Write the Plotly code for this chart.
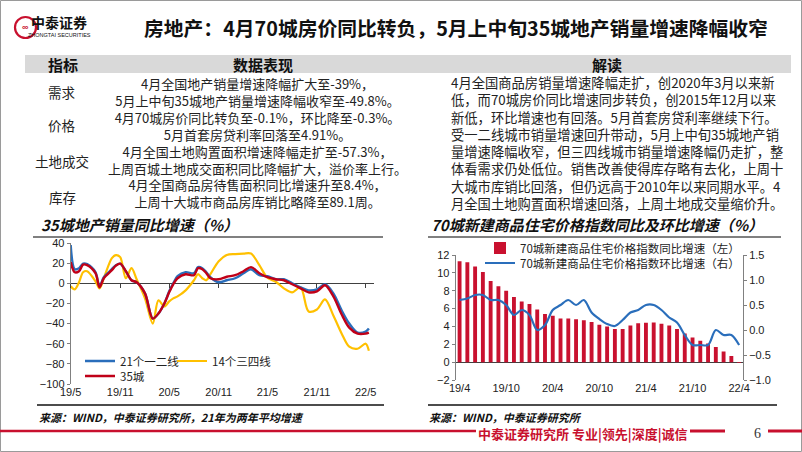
import plotly.graph_objects as go

W, H = 802, 452

# ---------------- data: 35-city sales YoY (left chart) ----------------
dates35 = ["2019-05-01", "2019-05-16", "2019-06-01", "2019-06-16", "2019-07-01", "2019-08-01",
           "2019-08-16", "2019-09-01", "2019-10-01", "2019-10-16", "2019-11-01", "2019-11-22",
           "2019-12-13", "2020-01-01", "2020-02-01", "2020-03-01", "2020-03-22", "2020-04-13",
           "2020-05-01", "2020-05-16", "2020-06-01", "2020-07-01", "2020-08-01", "2020-08-16",
           "2020-09-01", "2020-09-16", "2020-10-01", "2020-11-01", "2020-12-01", "2021-01-01",
           "2021-02-01", "2021-03-01", "2021-04-01", "2021-05-01", "2021-06-01", "2021-07-01",
           "2021-08-01", "2021-09-01", "2021-10-01", "2021-11-01", "2021-12-01", "2022-01-01",
           "2022-02-01", "2022-03-01", "2022-04-01", "2022-05-01", "2022-05-13"]
tier12 = [38, 14, 15, 19.5, 19, 11, -3, 6, 14, 18, 19.5, 12, 3, 1, -10, -35, -30, -20,
          -8, 0, 7, 11, 10, 16, 15, 11, 6, 1, 3, 5, 10, 14, 8, 7, 4, 4, 0, -4, -7, -6, -1,
          -10, -27, -40, -49, -48, -45]
tier34 = [-3, -6, 1, 11, 12, 2, -5, 5, 25, 28, 26, 5, 15, 4, -15, -40, -17, -23,
          -18, -15, -13, -7, 3, 9, 5, 3, 9, 22, 28, 29, 29.5, 29.5, 18, 5.5, 1.5, -5, -9, -4,
          -28, -26, -16, -32, -50, -63, -65, -60, -67]
city35 = [21, 11, 12, 18.5, 18, 10, -4, 5, 13, 17.5, 19.5, 12, 3, 1, -10, -35, -30, -20,
          -9, -1, 5, 9, 8, 15, 14, 10, 5, 4, 6.5, 8, 12, 16, 10, 6, 4, 3, -1, -5, -9, -8, -2,
          -13, -31, -44, -50, -50, -49]
tick_dates35 = ["2019-05-01", "2019-11-01", "2020-05-01", "2020-11-01", "2021-05-01",
                "2021-11-01", "2022-05-01"]
tick_text35 = ["19/5", "19/11", "20/5", "20/11", "21/5", "21/11", "22/5"]

# ---------------- data: 70-city new home prices (right chart) ----------------
months70 = ["19/4", "19/5", "19/6", "19/7", "19/8", "19/9", "19/10", "19/11", "19/12",
            "20/1", "20/2", "20/3", "20/4", "20/5", "20/6", "20/7", "20/8", "20/9", "20/10",
            "20/11", "20/12", "21/1", "21/2", "21/3", "21/4", "21/5", "21/6", "21/7", "21/8",
            "21/9", "21/10", "21/11", "21/12", "22/1", "22/2", "22/3", "22/4"]
yoy70 = [11.3, 11.2, 10.7, 10.1, 9.1, 8.5, 8.0, 7.3, 6.8, 6.5, 5.9, 5.4, 5.2, 4.9, 4.9,
         4.8, 4.7, 4.5, 4.2, 4.0, 3.7, 3.7, 4.1, 4.35, 4.4, 4.45, 4.3, 4.1, 3.7, 3.2, 2.75,
         2.4, 2.1, 1.7, 1.2, 0.7, -0.1]
mom70 = [0.6, 0.63, 0.7, 0.7, 0.6, 0.6, 0.5, 0.3, 0.4, 0.3, 0.0, 0.1, 0.4, 0.5, 0.6, 0.5,
         0.6, 0.35, 0.22, 0.12, 0.08, 0.2, 0.35, 0.4, 0.5, 0.5, 0.4, 0.25, 0.15, -0.1, -0.3,
         -0.3, -0.3, 0.0, -0.1, -0.1, -0.3]
tick_text70 = ["19/4", "19/10", "20/4", "20/10", "21/4", "21/10", "22/4"]

# ---------------- text ----------------
title_text = "房地产：4月70城房价同比转负，5月上中旬35城地产销量增速降幅收窄"
row_labels = ["需求", "价格", "土地成交", "库存"]
data_lines = ["4月全国地产销量增速降幅扩大至-39%，",
              "5月上中旬35城地产销量增速降幅收窄至-49.8%。",
              "4月70城房价同比转负至-0.1%，环比降至-0.3%。",
              "5月首套房贷利率回落至4.91%。",
              "4月全国土地购置面积增速降幅走扩至-57.3%，",
              "上周百城土地成交面积同比降幅扩大，溢价率上行。",
              "4月全国商品房待售面积同比增速升至8.4%，",
              "上周十大城市商品房库销比略降至89.1周。"]
read_lines = ["4月全国商品房销量增速降幅走扩，创2020年3月以来新",
              "低，而70城房价同比增速同步转负，创2015年12月以来",
              "新低，环比增速也有回落。5月首套房贷利率继续下行。",
              "受一二线城市销量增速回升带动，5月上中旬35城地产销",
              "量增速降幅收窄，但三四线城市销量增速降幅仍走扩，整",
              "体看需求仍处低位。销售改善使得库存略有去化，上周十",
              "大城市库销比回落，但仍远高于2010年以来同期水平。4",
              "月全国土地购置面积增速回落，上周土地成交量缩价升。"]

CJK = "Noto Sans CJK SC"
ARIAL = "Liberation Sans, Arial, sans-serif"
BLUE = "#2A6EBB"
RED35 = "#C00018"
YELLOW = "#FFC000"
BARRED = "#C9112F"
AXIS = "#808080"


def fx(x):
    return x / W


def fy(y):
    return 1 - y / H


fig = go.Figure()

# ---- left chart traces ----
fig.add_trace(go.Scatter(x=dates35, y=tier34, name="14个三四线", mode="lines",
                         line=dict(color=YELLOW, width=2.2, shape="spline", smoothing=0.9),
                         legend="legend2", xaxis="x", yaxis="y"))
fig.add_trace(go.Scatter(x=dates35, y=tier12, name="21个一二线", mode="lines",
                         line=dict(color=BLUE, width=2.4, shape="spline", smoothing=0.9),
                         legend="legend", xaxis="x", yaxis="y"))
fig.add_trace(go.Scatter(x=dates35, y=city35, name="35城", mode="lines",
                         line=dict(color=RED35, width=2.4, shape="spline", smoothing=0.9),
                         legend="legend3", xaxis="x", yaxis="y"))
# helper trace for the tick axis on the zero line
fig.add_trace(go.Scatter(x=[dates35[0]], y=[0], mode="markers", marker=dict(opacity=0),
                         showlegend=False, hoverinfo="skip", xaxis="x2", yaxis="y"))

# ---- right chart traces ----
fig.add_trace(go.Bar(x=months70, y=yoy70, name="70城新建商品住宅价格指数同比增速（左）",
                     marker=dict(color=BARRED, line=dict(width=0)), width=0.5,
                     legend="legend4", xaxis="x3", yaxis="y3"))
fig.add_trace(go.Scatter(x=months70, y=mom70, name="70城新建商品住宅价格指数环比增速（右）",
                         mode="lines", line=dict(color=BLUE, width=2.2, shape="spline", smoothing=0.9),
                         legend="legend5", xaxis="x3", yaxis="y4"))

# ---- axes ----
L_X0, L_X1, L_Y0, L_Y1 = 70.7, 374, 243, 384
R_X0, R_X1, R_Y0, R_Y1 = 455.7, 743, 255, 380
zero_left = fy(L_Y1) + (100 / 140) * (fy(L_Y0) - fy(L_Y1))

fig.update_layout(
    xaxis=dict(domain=[fx(L_X0), fx(L_X1)], anchor="y", type="date", automargin=False,
               range=["2019-05-01", "2022-06-01"], tickvals=tick_dates35, ticktext=tick_text35,
               showline=False, ticks="", showgrid=False, zeroline=False,
               tickfont=dict(family=ARIAL, size=11, color="#222")),
    xaxis2=dict(overlaying="x", anchor="free", position=zero_left, type="date", automargin=False,
                range=["2019-05-01", "2022-06-01"], tickvals=tick_dates35,
                showticklabels=False, ticks="outside", ticklen=4, tickcolor="#404040",
                showline=False, showgrid=False, zeroline=False, side="bottom"),
    yaxis=dict(domain=[fy(L_Y1), fy(L_Y0)], anchor="x", range=[-100, 40], dtick=20,
               automargin=False,
               showline=True, linecolor=AXIS, linewidth=1, ticks="outside", ticklen=3,
               tickcolor=AXIS, showgrid=False, zeroline=True, zerolinecolor="#404040",
               zerolinewidth=1, tickfont=dict(family=ARIAL, size=11, color="#222")),
    xaxis3=dict(domain=[fx(R_X0), fx(R_X1)], anchor="y3", type="category", automargin=False,
                categoryorder="array", categoryarray=months70,
                range=[-0.5, 36.5], tickvals=tick_text70, ticktext=tick_text70,
                showline=False, ticks="", showgrid=False, zeroline=False,
                tickfont=dict(family=ARIAL, size=11, color="#222")),
    yaxis3=dict(domain=[fy(R_Y1), fy(R_Y0)], anchor="x3", range=[-2, 12], dtick=2,
                automargin=False,
                showline=True, linecolor=AXIS, linewidth=1, ticks="outside", ticklen=3,
                tickcolor=AXIS, showgrid=False, zeroline=True, zerolinecolor="#404040",
                zerolinewidth=1, tickfont=dict(family=ARIAL, size=11, color="#222")),
    yaxis4=dict(domain=[fy(R_Y1), fy(R_Y0)], anchor="x3", overlaying="y3", side="right",
                range=[-1, 1.5], dtick=0.5, tickformat=".1f", automargin=False,
                showline=True, linecolor=AXIS, linewidth=1, ticks="outside", ticklen=3,
                tickcolor=AXIS, showgrid=False, zeroline=False,
                tickfont=dict(family=ARIAL, size=11, color="#222")),
)

# ---- legends ----
def legend_at(x, y, size):
    return dict(x=fx(x), y=fy(y), xanchor="left", yanchor="middle", bgcolor="rgba(0,0,0,0)",
                borderwidth=0, font=dict(family=CJK, size=size, color="#222"),
                itemwidth=30, tracegroupgap=0)

fig.update_layout(
    legend=legend_at(80, 361, 11.5),
    legend2=legend_at(172, 361, 11.5),
    legend3=legend_at(80, 376, 11.5),
    legend4=legend_at(480, 248, 11.5),
    legend5=legend_at(480, 263, 11.5),
)

shapes = []
annotations = []


def text(x, y, s, size, color="#111", bold=False, italic=False, xanchor="center",
         family=CJK, align="center"):
    annotations.append(dict(x=fx(x), y=fy(y), xref="paper", yref="paper", text=s,
                            showarrow=False, xanchor=xanchor, yanchor="middle", align=align,
                            borderpad=0,
                            font=dict(family=family, size=size, color=color,
                                      weight="bold" if bold else "normal",
                                      style="italic" if italic else "normal")))


def hline(x0, x1, y, color, width):
    shapes.append(dict(type="line", xref="paper", yref="paper", x0=fx(x0), x1=fx(x1),
                       y0=fy(y), y1=fy(y), line=dict(color=color, width=width)))


# slide frame
shapes.append(dict(type="rect", xref="paper", yref="paper", x0=fx(0.5), x1=fx(801.5),
                   y0=fy(451.5), y1=fy(0.5), line=dict(color="#9A9A9A", width=1)))

# logo
shapes.append(dict(type="circle", xref="paper", yref="paper", x0=fx(15), x1=fx(36),
                   y0=fy(38), y1=fy(17), line=dict(color="#C8102E", width=2.2)))
text(25.5, 27.5, "∞", 9, color="#C8102E", bold=True, family=ARIAL)
text(59, 22, "中泰证券", 14, color="#111", bold=True)
text(59, 35, "ZHONGTAI SECURITIES", 5.5, color="#111", family=ARIAL)

# title
text(143, 27, title_text, 19.8, color="#111", bold=True, xanchor="left")

# table header
shapes.append(dict(type="rect", xref="paper", yref="paper", x0=fx(25), x1=fx(791),
                   y0=fy(73), y1=fy(55), fillcolor="#D9D9D9", line=dict(width=0),
                   layer="below"))
text(63, 64, "指标", 15, bold=True)
text(263, 64, "数据表现", 15, bold=True)
text(607, 64, "解读", 15, bold=True)

row_y = [92, 125, 161, 197]
for lab, yy in zip(row_labels, row_y):
    text(62, yy, lab, 13.5, color="#222")

text(257, 142.5, "<br>".join(data_lines), 13, color="#222")
text(450, 143, "<br>".join(read_lines), 13.3, color="#222", xanchor="left", align="left")

# chart titles
text(40, 225, "35城地产销量同比增速（%）", 15, bold=True, italic=True, xanchor="left")
text(430, 225, "70城新建商品住宅价格指数同比及环比增速（%）", 15, bold=True, italic=True,
     xanchor="left")
hline(33, 383, 237, "#808080", 2)
hline(428, 781, 237, "#808080", 2)

# source lines
hline(37, 384, 405, "#111", 1.5)
hline(428, 777, 405, "#111", 1.5)
text(38, 417, "来源：WIND，中泰证券研究所，21年为两年平均增速", 11, bold=True, italic=True,
     xanchor="left")
text(428, 417, "来源：WIND，中泰证券研究所", 11, bold=True, italic=True, xanchor="left")

# footer
hline(0, 476, 431, "#C8102E", 2.5)
text(583, 433, "中泰证券研究所 专业|领先|深度|诚信", 13, color="#C8102E", bold=True)
hline(690, 725, 431, "#C8102E", 3)
text(757, 433, "6", 14, color="#333", family="Liberation Serif, serif")
hline(768, 802, 431, "#C8102E", 3)

fig.update_layout(
    width=W, height=H, margin=dict(l=0, r=0, t=0, b=0, autoexpand=False),
    paper_bgcolor="white", plot_bgcolor="rgba(0,0,0,0)",
    shapes=shapes, annotations=annotations, showlegend=True,
    bargap=0.5,
)

fig.write_html("out.html", config={"displayModeBar": False, "staticPlot": True},
               post_script="document.body.style.margin='0';document.body.style.padding='0';"
                           "document.documentElement.style.overflow='hidden';")
